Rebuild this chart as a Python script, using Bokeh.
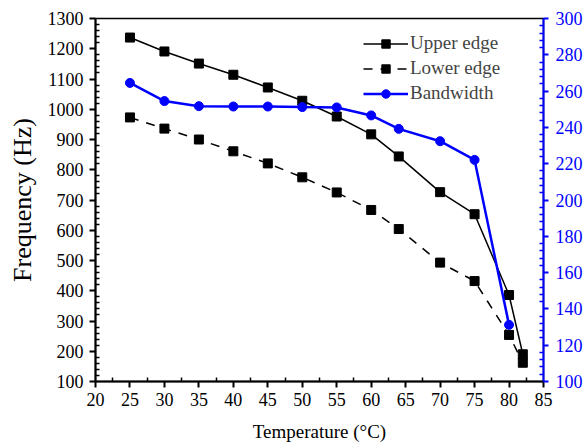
from bokeh.plotting import figure
from bokeh.models import Range1d, LinearAxis, Legend, LegendItem, FixedTicker
from bokeh.embed import file_html
from bokeh.resources import INLINE

# Data
temp_upper = [25, 30, 35, 40, 45, 50, 55, 60, 64, 70, 75, 80, 82]
upper_edge = [1237, 1191, 1151, 1114, 1072, 1028, 976, 917, 844, 726, 653, 386, 190]
temp_lower = [25, 30, 35, 40, 45, 50, 55, 60, 64, 70, 75, 80, 82]
lower_edge = [973, 936, 900, 861, 821, 775, 725, 667, 604, 493, 432, 254, 162]
temp_bw = [25, 30, 35, 40, 45, 50, 55, 60, 64, 70, 75, 80]
bandwidth = [264.5, 254.5, 251.7, 251.5, 251.5, 251.2, 251.0, 246.6, 239.2, 232.4, 222.1, 131.2]

x_ticks = [20, 25, 30, 35, 40, 45, 50, 55, 60, 65, 70, 75, 80, 85]
y_ticks = [100, 200, 300, 400, 500, 600, 700, 800, 900, 1000, 1100, 1200, 1300]
y2_ticks = [100, 120, 140, 160, 180, 200, 220, 240, 260, 280, 300]

FONT = "Liberation Serif"
BLUE = "#0000ff"

p = figure(width=585, height=448, output_backend="svg", toolbar_location=None,
           x_range=Range1d(20, 85), y_range=Range1d(100, 1300),
           min_border_left=95, min_border_right=41, min_border_top=18, min_border_bottom=67)
p.extra_y_ranges = {"bw": Range1d(100, 300)}

p.grid.visible = False
p.outline_line_color = "black"
p.outline_line_width = 1.5
p.background_fill_color = "white"
p.border_fill_color = "white"

# Axes styling
for ax in [p.xaxis[0], p.yaxis[0]]:
    ax.axis_line_width = 2
    ax.axis_line_color = "black"
    ax.major_tick_line_color = "black"
    ax.minor_tick_line_color = "black"
    ax.major_tick_line_width = 2
    ax.minor_tick_line_width = 1.5
    ax.major_tick_in = 0
    ax.major_tick_out = 6
    ax.minor_tick_in = 4
    ax.minor_tick_out = 0
    ax.major_label_text_font = FONT
    ax.major_label_text_font_size = "18px"
    ax.major_label_text_color = "black"
    ax.axis_label_text_font = FONT
    ax.axis_label_text_font_style = "normal"
    ax.axis_label_text_color = "black"

p.xaxis[0].ticker = FixedTicker(ticks=x_ticks, minor_ticks=[t + 2.5 for t in x_ticks[:-1]])
p.yaxis[0].ticker = FixedTicker(ticks=y_ticks,
                                minor_ticks=[t + d for t in y_ticks[:-1] for d in (20, 40, 60, 80)])
p.xaxis[0].axis_label = "Temperature (\u00b0C)"
p.xaxis[0].axis_label_text_font_size = "19px"
p.xaxis[0].axis_label_standoff = 12
p.xaxis[0].major_label_standoff = 5
p.yaxis[0].axis_label = "Frequency (Hz)"
p.yaxis[0].axis_label_text_font_size = "26px"
p.yaxis[0].axis_label_standoff = 8
p.yaxis[0].major_label_standoff = 6

ax2 = LinearAxis(y_range_name="bw",
                 ticker=FixedTicker(ticks=y2_ticks,
                                    minor_ticks=[t + d for t in y2_ticks[:-1] for d in (4, 8, 12, 16)]))
ax2.axis_line_color = BLUE
ax2.axis_line_width = 2
ax2.major_tick_line_color = BLUE
ax2.minor_tick_line_color = BLUE
ax2.major_tick_line_width = 2
ax2.minor_tick_line_width = 1.5
ax2.major_tick_in = 0
ax2.major_tick_out = 5
ax2.minor_tick_in = 4
ax2.minor_tick_out = 0
ax2.major_label_text_font = FONT
ax2.major_label_text_font_size = "18px"
ax2.major_label_text_color = BLUE
ax2.major_label_standoff = 7
p.add_layout(ax2, "right")

# Series
r_up_l = p.line(temp_upper, upper_edge, line_color="black", line_width=1.5)
r_up_m = p.scatter(temp_upper, upper_edge, marker="square", size=9, fill_color="black", line_color="black")
r_lo_l = p.line(temp_lower, lower_edge, line_color="black", line_width=1.5, line_dash="9 8")
r_lo_m = p.scatter(temp_lower, lower_edge, marker="square", size=9, fill_color="black", line_color="black")
r_bw_l = p.line(temp_bw, bandwidth, line_color=BLUE, line_width=2.5, y_range_name="bw")
r_bw_m = p.scatter(temp_bw, bandwidth, marker="circle", size=9, fill_color=BLUE, line_color=BLUE,
                   y_range_name="bw")

legend = Legend(items=[
    LegendItem(label="Upper edge", renderers=[r_up_l, r_up_m]),
    LegendItem(label="Lower edge", renderers=[r_lo_l, r_lo_m]),
    LegendItem(label="Bandwidth", renderers=[r_bw_l, r_bw_m]),
], location=(268, 277))
legend.border_line_alpha = 0
legend.background_fill_alpha = 0
legend.label_text_font = FONT
legend.label_text_font_size = "19px"
legend.glyph_width = 45
legend.glyph_height = 21
legend.label_standoff = 2
legend.label_height = 21
legend.spacing = 3
legend.padding = 0
legend.margin = 0
p.add_layout(legend, "center")

open("out.html", "w").write(file_html(p, INLINE))
